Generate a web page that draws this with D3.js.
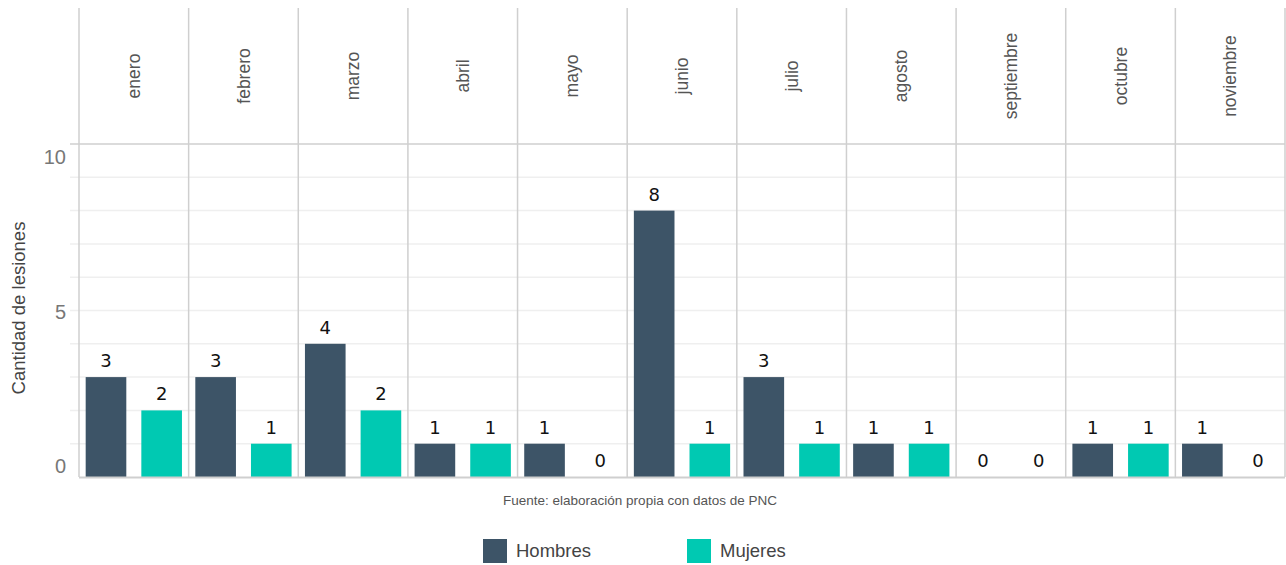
<!DOCTYPE html>
<html>
<head>
<meta charset="utf-8">
<script src="https://cdn.jsdelivr.net/npm/d3@7"></script>
<style>
  body { margin: 0; background: #fff; }
  svg { display: block; }
</style>
</head>
<body>
<div id="chart"></div>
<script>
// data
const months = ['enero', 'febrero', 'marzo', 'abril', 'mayo', 'junio', 'julio', 'agosto', 'septiembre', 'octubre', 'noviembre'];
const groups = ['Hombres', 'Mujeres'];
const hombres = [3, 3, 4, 1, 1, 8, 3, 1, 0, 1, 1];
const mujeres = [2, 1, 2, 1, 0, 1, 1, 1, 0, 1, 0];
const yTicks = [0, 5, 10];
const colors = ['#3d5467', '#00c9b2'];

const data = months.flatMap((m, i) => [
  { month: m, group: 'Hombres', value: hombres[i] },
  { month: m, group: 'Mujeres', value: mujeres[i] }
]);

const width = 1286, height = 565;
const left = 79, right = 1285, stripTop = 8, panelTop = 144, panelBottom = 477;

const svg = d3.select('#chart').append('svg')
  .attr('width', width)
  .attr('height', height)
  .style('font-family', '"Liberation Sans", Arial, sans-serif');

// facet scale
const fx = d3.scaleBand().domain(months).range([left, right]);
const x = d3.scaleBand().domain(groups).range([0, fx.bandwidth()])
  .paddingInner(0.27).paddingOuter(0.12);
const y = d3.scaleLinear().domain([0, 10]).range([panelBottom, panelTop]);
// axis labels sit a bit inside the panel in the original
const yLab = d3.scaleLinear().domain([0, 10]).range([466, 157]);
const color = d3.scaleOrdinal().domain(groups).range(colors);

// gridlines every unit
svg.append('g')
  .selectAll('line')
  .data(d3.range(1, 10))
  .join('line')
  .attr('x1', 70).attr('x2', right)
  .attr('y1', d => y(d)).attr('y2', d => y(d))
  .attr('stroke', '#efefef')
  .attr('stroke-width', 1.5);

// panel borders
svg.append('g')
  .selectAll('line')
  .data(months.concat(['end']))
  .join('line')
  .attr('x1', d => d === 'end' ? right : fx(d))
  .attr('x2', d => d === 'end' ? right : fx(d))
  .attr('y1', stripTop).attr('y2', panelBottom)
  .attr('stroke', '#cfcfcf')
  .attr('stroke-width', 1.5);

svg.append('line')
  .attr('x1', 70).attr('x2', right)
  .attr('y1', panelTop).attr('y2', panelTop)
  .attr('stroke', '#cfcfcf').attr('stroke-width', 1.5);

// strip labels
svg.append('g')
  .selectAll('text')
  .data(months)
  .join('text')
  .attr('transform', d => `translate(${fx(d) + fx.bandwidth() / 2},${(stripTop + panelTop) / 2}) rotate(-90)`)
  .attr('text-anchor', 'middle')
  .attr('dy', '0.35em')
  .attr('fill', '#555')
  .attr('font-size', 17.5)
  .text(d => d);

// bars
const panel = svg.append('g')
  .selectAll('g')
  .data(data)
  .join('g')
  .attr('transform', d => `translate(${fx(d.month)},0)`);

panel.append('rect')
  .attr('x', d => x(d.group))
  .attr('width', x.bandwidth())
  .attr('y', d => y(d.value))
  .attr('height', d => y(0) - y(d.value))
  .attr('fill', d => color(d.group));

panel.append('text')
  .attr('x', d => x(d.group) + x.bandwidth() / 2)
  .attr('y', d => y(d.value) - 10)
  .attr('text-anchor', 'middle')
  .attr('font-family', '"DejaVu Sans", sans-serif')
  .attr('font-size', 18)
  .attr('fill', '#111')
  .text(d => d.value);

// bottom border
svg.append('line')
  .attr('x1', left).attr('x2', right)
  .attr('y1', panelBottom + 0.5).attr('y2', panelBottom + 0.5)
  .attr('stroke', '#cfcfcf').attr('stroke-width', 2);

// y axis labels
svg.append('g')
  .selectAll('text')
  .data(yTicks)
  .join('text')
  .attr('x', 66)
  .attr('y', d => yLab(d))
  .attr('dy', '0.35em')
  .attr('text-anchor', 'end')
  .attr('fill', '#777')
  .attr('font-size', 20)
  .text(d => d);

svg.append('text')
  .attr('transform', `translate(19,308) rotate(-90)`)
  .attr('text-anchor', 'middle')
  .attr('dy', '0.35em')
  .attr('fill', '#444')
  .attr('font-size', 18.5)
  .text('Cantidad de lesiones');

// caption
svg.append('text')
  .attr('x', 640).attr('y', 500)
  .attr('text-anchor', 'middle')
  .attr('dy', '0.35em')
  .attr('fill', '#555')
  .attr('font-size', 13.5)
  .text('Fuente: elaboración propia con datos de PNC');

// legend
const legend = svg.append('g')
  .selectAll('g')
  .data(groups)
  .join('g')
  .attr('transform', (d, i) => `translate(${483 + i * 204},539)`);

legend.append('rect')
  .attr('width', 24).attr('height', 24)
  .attr('fill', color);

legend.append('text')
  .attr('x', 33).attr('y', 12)
  .attr('dy', '0.35em')
  .attr('fill', '#444')
  .attr('font-size', 18.5)
  .text(d => d);
</script>
</body>
</html>
